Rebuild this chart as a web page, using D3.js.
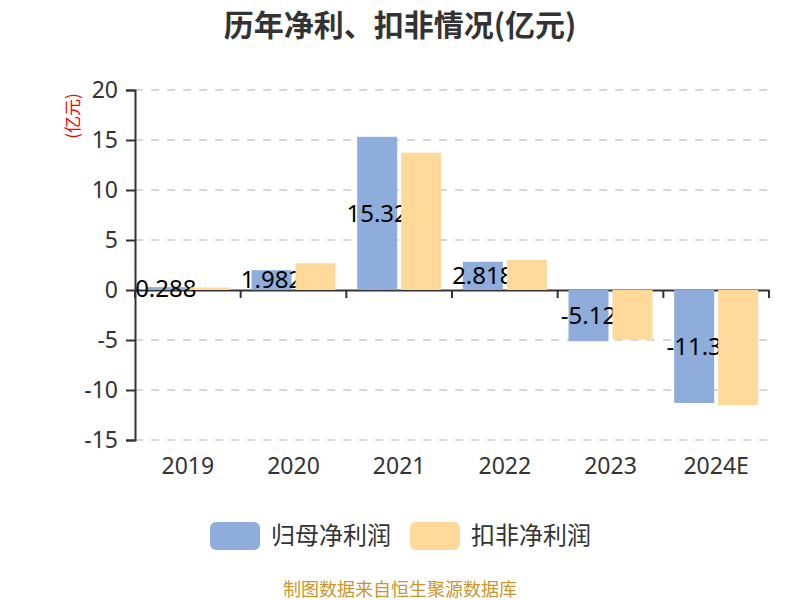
<!DOCTYPE html>
<html>
<head>
<meta charset="utf-8">
<script src="https://cdn.jsdelivr.net/npm/d3@7"></script>
<style>
    body { margin: 0; background: #fff; }
    text { font-family: "Noto Sans CJK SC", "Noto Sans", sans-serif; }
</style>
</head>
<body>
<div id="chart"></div>
<script>
// chart data
const years = ["2019", "2020", "2021", "2022", "2023", "2024E"];
const netProfit = [0.288, 1.982, 15.32, 2.818, -5.12, -11.3];
const deductedProfit = [0.25, 2.67, 13.73, 3.0, -4.95, -11.5];
const yTicks = [20, 15, 10, 5, 0, -5, -10, -15];
const seriesNames = ["归母净利润", "扣非净利润"];
const colors = ["#8eaddb", "#ffd999"];

const width = 800, height = 600;
const margin = {top: 90, right: 31, bottom: 160, left: 135};

const svg = d3.select("#chart").append("svg")
    .attr("width", width)
    .attr("height", height);

// title
svg.append("text")
    .attr("x", width / 2)
    .attr("y", 36)
    .attr("text-anchor", "middle")
    .style("font-size", "30px")
    .style("font-weight", "bold")
    .style("fill", "#333")
    .text("历年净利、扣非情况(亿元)");

// scales
let x = d3.scaleBand()
    .domain(years)
    .range([margin.left, width - margin.right]);

let y = d3.scaleLinear()
    .domain([-15, 20])
    .range([height - margin.bottom, margin.top]);

let barW = 40, gap = 4;
let pad = (x.bandwidth() - 2 * barW - gap) / 2;

// grid lines
svg.append("g")
    .selectAll("line")
    .data(yTicks.filter(d => d !== 0))
    .enter().append("line")
    .attr("x1", margin.left)
    .attr("x2", width - margin.right)
    .attr("y1", d => y(d))
    .attr("y2", d => y(d))
    .style("stroke", "#ccc")
    .style("stroke-width", 1.5)
    .style("stroke-dasharray", "8,8");

// y axis
let yAxis = svg.append("g")
    .attr("transform", `translate(${margin.left},0)`)
    .call(d3.axisLeft(y).tickValues(yTicks).tickSize(9).tickPadding(8).tickFormat(d => String(d)));
yAxis.select(".domain").style("stroke", "#333").style("stroke-width", 2);
yAxis.selectAll(".tick line").style("stroke", "#333").style("stroke-width", 2);
yAxis.selectAll(".tick text")
    .style("font-size", "23px")
    .style("fill", "#333")
    .style("font-family", "'Noto Sans', sans-serif");

// y unit label
svg.append("text")
    .attr("transform", `translate(79, 116) rotate(-90)`)
    .attr("text-anchor", "middle")
    .style("font-size", "17px")
    .style("fill", "red")
    .text("(亿元)");

// x axis at zero
let xAxis = svg.append("g")
    .attr("transform", `translate(0,${y(0)})`)
    .call(d3.axisBottom(x).tickSize(0).tickFormat(""));
xAxis.select(".domain").style("stroke", "#333").style("stroke-width", 2);

// boundary ticks
let bounds = years.map(d => x(d)).concat([x(years[years.length - 1]) + x.bandwidth()]);
svg.append("g")
    .selectAll("line")
    .data(bounds)
    .enter().append("line")
    .attr("x1", d => d)
    .attr("x2", d => d)
    .attr("y1", y(0))
    .attr("y2", y(0) + 8)
    .style("stroke", "#333")
    .style("stroke-width", 2);

// x labels at bottom
svg.append("g")
    .selectAll("text")
    .data(years)
    .enter().append("text")
    .attr("x", d => x(d) + x.bandwidth() / 2)
    .attr("y", 474)
    .attr("text-anchor", "middle")
    .style("font-size", "23px")
    .style("fill", "#333")
    .style("font-family", "'Noto Sans', sans-serif")
    .text(d => d);

// blue bars
svg.append("g")
    .selectAll("rect")
    .data(netProfit)
    .enter().append("rect")
    .attr("x", (d, i) => x(years[i]) + pad)
    .attr("y", d => y(Math.max(0, d)))
    .attr("width", barW)
    .attr("height", d => Math.abs(y(d) - y(0)))
    .style("fill", colors[0]);

// blue labels (drawn before orange bars, so they get covered)
svg.append("g")
    .selectAll("text")
    .data(netProfit)
    .enter().append("text")
    .attr("x", (d, i) => x(years[i]) + pad + barW / 2)
    .attr("y", d => (y(d) + y(0)) / 2)
    .attr("dy", "0.35em")
    .attr("text-anchor", "middle")
    .style("font-size", "24px")
    .style("fill", "#000")
    .style("font-family", "'Noto Sans', sans-serif")
    .text(d => d);

// orange bars
svg.append("g")
    .selectAll("rect")
    .data(deductedProfit)
    .enter().append("rect")
    .attr("x", (d, i) => x(years[i]) + pad + barW + gap)
    .attr("y", d => y(Math.max(0, d)))
    .attr("width", barW)
    .attr("height", d => Math.abs(y(d) - y(0)))
    .style("fill", colors[1]);

// legend
let legend = svg.append("g").attr("transform", "translate(210, 522)");
let legendX = [0, 200];
seriesNames.forEach((name, i) => {
    legend.append("rect")
        .attr("x", legendX[i])
        .attr("y", 0)
        .attr("width", 50)
        .attr("height", 28)
        .attr("rx", 6)
        .style("fill", colors[i]);
    legend.append("text")
        .attr("x", legendX[i] + 61)
        .attr("y", 14)
        .attr("dy", "0.35em")
        .style("font-size", "24px")
        .style("fill", "#333")
        .text(name);
});

// source
svg.append("text")
    .attr("x", width / 2)
    .attr("y", 596)
    .attr("text-anchor", "middle")
    .style("font-size", "18px")
    .style("fill", "#c9962c")
    .text("制图数据来自恒生聚源数据库");
</script>
</body>
</html>
